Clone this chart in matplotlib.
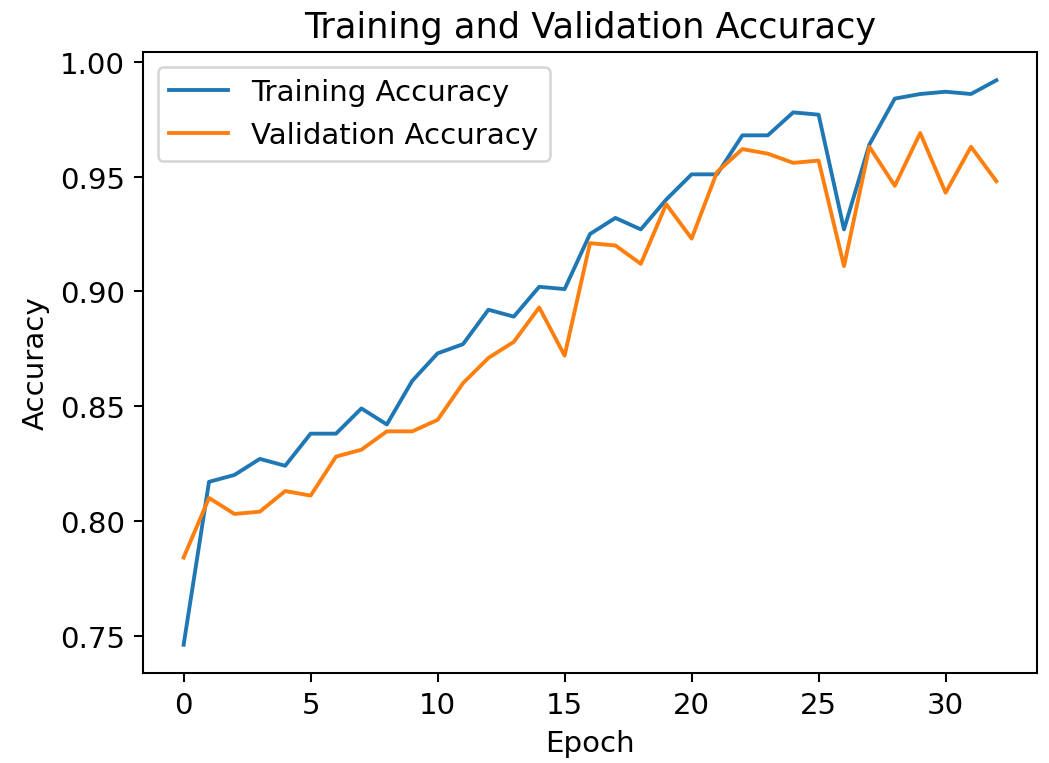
import numpy as np
import matplotlib
matplotlib.use("Agg")
import matplotlib.pyplot as plt

# valores
epocas = list(range(33))
acc_treino = [0.746, 0.817, 0.820, 0.827, 0.824, 0.838, 0.838, 0.849, 0.842, 0.861,
              0.873, 0.877, 0.892, 0.889, 0.902, 0.901, 0.925, 0.932, 0.927, 0.940,
              0.951, 0.951, 0.968, 0.968, 0.978, 0.977, 0.927, 0.964, 0.984, 0.986,
              0.987, 0.986, 0.992]
acc_valid = [0.784, 0.810, 0.803, 0.804, 0.813, 0.811, 0.828, 0.831, 0.839, 0.839,
             0.844, 0.860, 0.871, 0.878, 0.893, 0.872, 0.921, 0.920, 0.912, 0.938,
             0.923, 0.952, 0.962, 0.960, 0.956, 0.957, 0.911, 0.963, 0.946, 0.969,
             0.943, 0.963, 0.948]

plt.rcParams['font.size'] = 11.4

fig = plt.figure(figsize=(1049 / 185, 764 / 185), dpi=185)
ax = fig.add_axes([0.1363, 0.1178, 0.8523, 0.8128])
ax.plot(epocas, acc_treino, label='Training Accuracy')
ax.plot(epocas, acc_valid, label='Validation Accuracy')
ax.set_title('Training and Validation Accuracy')
ax.set_xlabel('Epoch')
ax.set_ylabel('Accuracy')
ax.legend()
fig.savefig('out.png', dpi=185)
